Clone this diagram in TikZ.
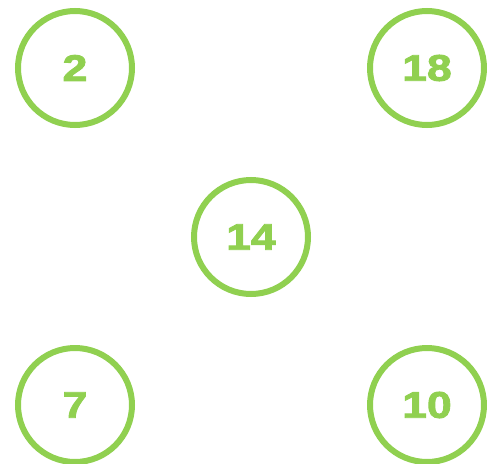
\documentclass[tikz,border=0pt]{standalone}
\usepackage{fontspec}
\setmainfont{Liberation Sans}[BoldFeatures={FakeBold=2.5,FakeStretch=1.2}]
\definecolor{leafgreen}{RGB}{144,208,80}
\begin{document}
\begin{tikzpicture}[x=1pt,y=-1pt,
		circled/.style={draw=leafgreen, circle, line width=6pt, minimum size=114pt, inner sep=0pt,
			text=leafgreen, font=\fontsize{37}{37}\selectfont\bfseries}
		]
		\useasboundingbox (0,0) rectangle (487,463);
		\node [circled] (two) at (75,68) {2};
		\node [circled] (eighteen) at (427,68) {18};
		\node [circled] (fourteen) at (251,237) {14};
		\node [circled] (seven) at (75,405) {7};
		\node [circled] (ten) at (427,405) {10};
	\end{tikzpicture}
\end{document}
